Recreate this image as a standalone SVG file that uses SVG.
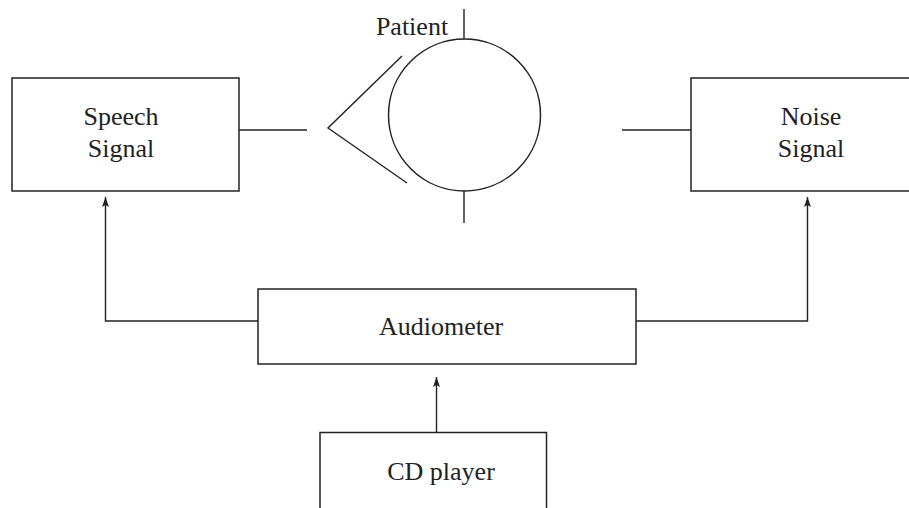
<svg xmlns="http://www.w3.org/2000/svg" width="909" height="508" viewBox="0 0 909 508">
<style>
.box{fill:none;stroke:#222;stroke-width:1.5}
.ln{fill:none;stroke:#222;stroke-width:1.4}
.t{font-family:"Liberation Serif","Times New Roman",serif;font-size:26px;fill:#222;text-anchor:middle}
</style>
<defs>
<marker id="ah" viewBox="0 0 10 12" refX="10" refY="6" markerWidth="10" markerHeight="12" markerUnits="userSpaceOnUse" orient="auto">
<path d="M0,2.5 L10,6 L0,9.5 L2,6 Z" fill="#222"/>
</marker>
</defs>
<rect width="909" height="508" fill="#fff"/>
<g id="speech">
<rect class="box" x="12" y="78" width="227" height="113"/>
<text class="t" x="121" y="125">Speech</text>
<text class="t" x="121" y="157">Signal</text>
</g>
<g id="noise">
<rect class="box" x="691" y="78" width="240" height="113"/>
<text class="t" x="811" y="125">Noise</text>
<text class="t" x="811" y="157">Signal</text>
</g>
<g id="patient">
<circle class="box" cx="464.5" cy="115" r="76"/>
<line class="ln" x1="464" y1="9" x2="464" y2="39"/>
<line class="ln" x1="464" y1="191" x2="464" y2="223"/>
<polyline class="ln" points="402,56 328,128 407,183"/>
<text class="t" x="412" y="35">Patient</text>
</g>
<g id="audiometer">
<rect class="box" x="258" y="289" width="378" height="75"/>
<text class="t" x="441" y="335">Audiometer</text>
</g>
<g id="cdplayer">
<polyline class="box" points="320,520 320,432.5 546.5,432.5 546.5,520"/>
<text class="t" x="441" y="480">CD player</text>
</g>
<g id="connectors">
<line class="ln" x1="239" y1="130" x2="307" y2="130"/>
<line class="ln" x1="622" y1="130" x2="691" y2="130"/>
<polyline class="ln" points="258,321 105.5,321 105.5,197" marker-end="url(#ah)"/>
<polyline class="ln" points="636,321 807.5,321 807.5,197" marker-end="url(#ah)"/>
<line class="ln" x1="436.5" y1="432" x2="436.5" y2="377" marker-end="url(#ah)"/>
</g>
</svg>
